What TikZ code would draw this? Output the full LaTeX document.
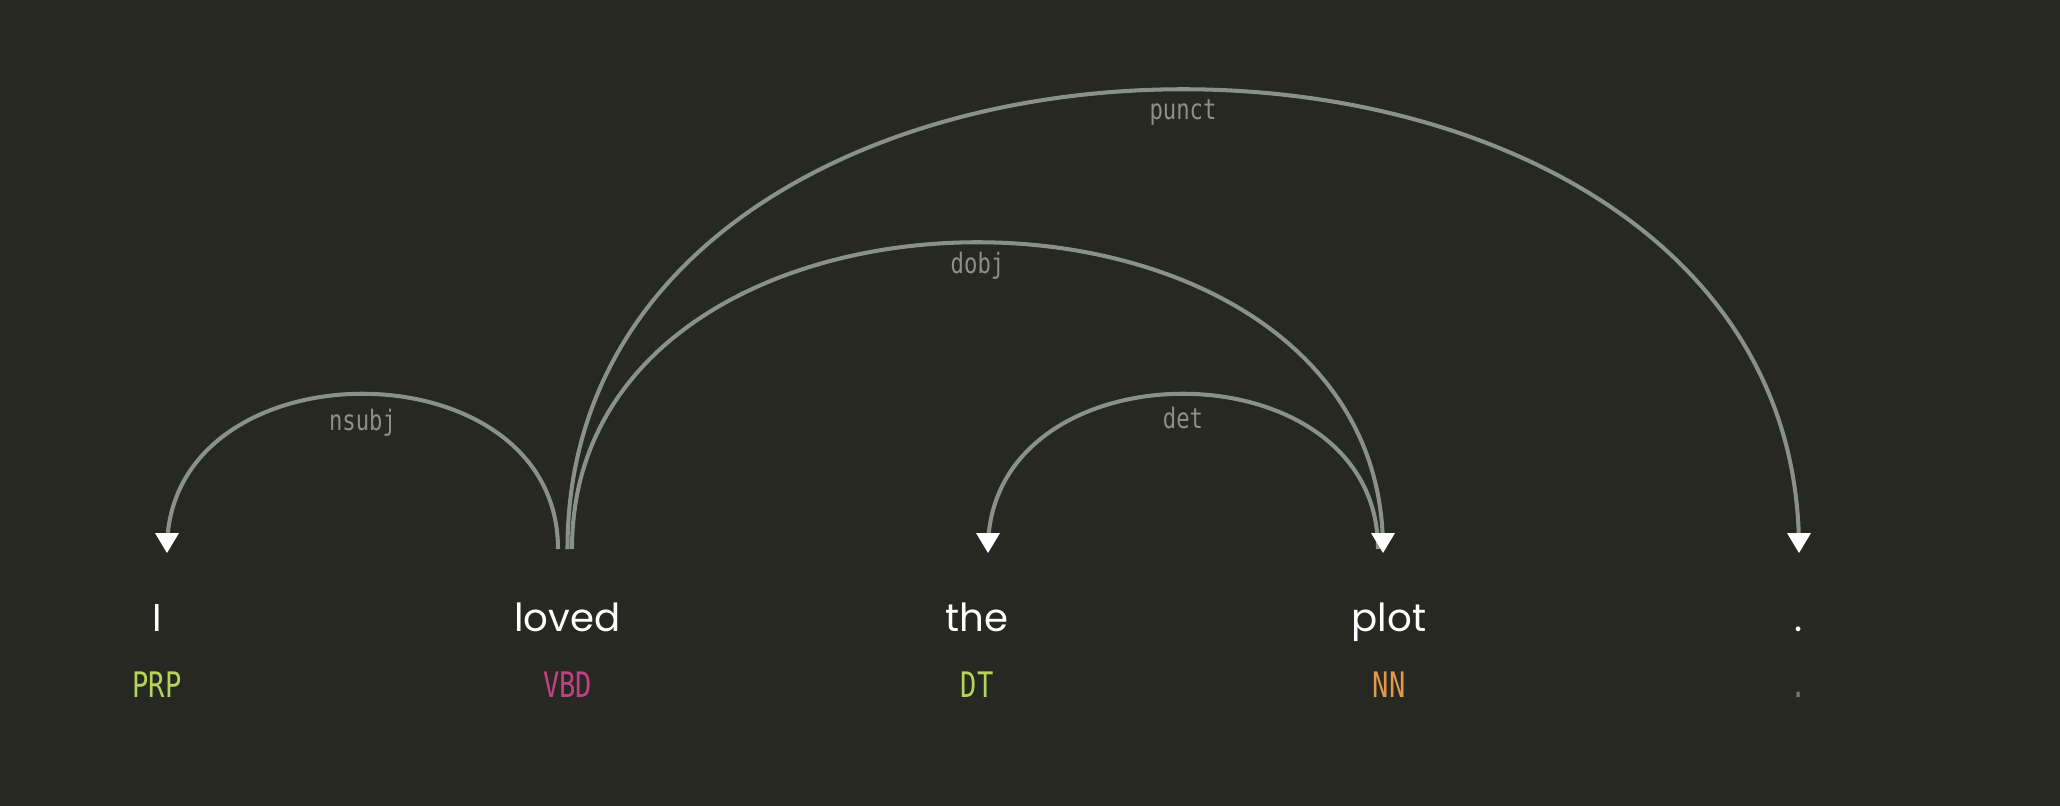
\documentclass[tikz,border=0pt]{standalone}
\usepackage{fontspec}
\setmainfont{Poppins}
\newfontfamily\labfont[FakeStretch=0.79]{DejaVu Sans Mono}
\newfontfamily\tagfont[FakeStretch=0.77]{DejaVu Sans Mono}
\definecolor{bg}{RGB}{39,40,34}
\definecolor{arccol}{RGB}{138,145,140}
\definecolor{labcol}{RGB}{140,143,138}
\definecolor{lime}{RGB}{182,212,90}
\definecolor{pinkc}{RGB}{198,63,134}
\definecolor{orangec}{RGB}{228,153,74}
\definecolor{dotc}{RGB}{119,119,119}
\tikzset{
  word/.style={anchor=base, inner sep=0pt, text=white, font=\fontsize{11}{13}\selectfont},
  tagtext/.style={anchor=base, inner sep=0pt, font=\tagfont\fontsize{10}{12}\selectfont},
  arclabel/.style={anchor=base, inner sep=0pt, text=labcol, font=\labfont\fontsize{8}{10}\selectfont},
  arcline/.style={draw=arccol, line width=1.15pt},
  head/.style={fill=white}
}
\begin{document}
\begin{tikzpicture}[x=0.01cm, y=-0.01cm]
\fill[bg] (0,0) rectangle (2060,806);
\useasboundingbox (0,0) rectangle (2060,806);
% words
\node[word] (w1) at (157,631) {I};
\node[word] (w2) at (567.5,631) {loved};
\node[word] (w3) at (977,631) {the};
\node[word] (w4) at (1389,631) {plot};
\node[word] (w5) at (1799,631) {.};
% tags
\node[tagtext, text=lime] (t1) at (157,697) {PRP};
\node[tagtext, text=pinkc] (t2) at (567.5,697) {VBD};
\node[tagtext, text=lime] (t3) at (977,697) {DT};
\node[tagtext, text=orangec] (t4) at (1389,697) {NN};
\node[tagtext, text=dotc] (t5) at (1799,697) {.};
% arc endpoints
\coordinate (nsubjS) at (558,549);
\coordinate (nsubjE) at (167,549);
\coordinate (punctS) at (567.5,549);
\coordinate (punctE) at (1799,549);
\coordinate (dobjS) at (572,549);
\coordinate (dobjE) at (1383,549);
\coordinate (detS) at (1378,549);
\coordinate (detE) at (988,549);
% arcs
\draw[arcline] (nsubjS) .. controls +(0,-207) and +(0,-207) .. (nsubjE);
\draw[arcline] (detS) .. controls +(0,-207) and +(0,-207) .. (detE);
\draw[arcline] (dobjS) .. controls +(0,-409) and +(0,-409) .. (dobjE);
\draw[arcline] (punctS) .. controls +(0,-613) and +(0,-613) .. (punctE);
% arrow heads
\foreach \p in {nsubjE, detE, dobjE, punctE}{
  \fill[head] ([yshift=-4*0.01cm]\p) -- ++(-12,-20) -- ++(24,0) -- cycle;
}
% labels
\node[arclabel] (lnsubj) at (362.5,430) {nsubj};
\node[arclabel] (ldet) at (1183,428) {det};
\node[arclabel] (ldobj) at (977.5,273) {dobj};
\node[arclabel] (lpunct) at (1183,120) {punct};
\end{tikzpicture}
\end{document}
